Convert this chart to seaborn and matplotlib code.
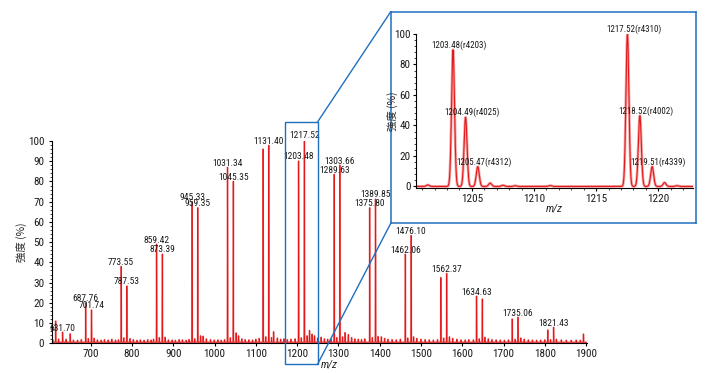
import numpy as np
import pandas as pd
import matplotlib
matplotlib.use("Agg")
import matplotlib.pyplot as plt
import seaborn as sns
from matplotlib.patches import Rectangle, ConnectionPatch
from matplotlib.ticker import MultipleLocator
from matplotlib import font_manager

# ---------------- data ----------------
peak_mz = [615.0, 631.70, 650.0, 687.76, 701.74, 773.55, 787.53, 859.42, 873.39,
           945.33, 959.35, 1031.34, 1045.35, 1117.37, 1131.40, 1203.48, 1217.52,
           1289.63, 1303.66, 1375.80, 1389.85, 1462.06, 1476.10, 1548.30, 1562.37,
           1634.63, 1648.65, 1721.00, 1735.06, 1807.40, 1821.43, 1893.70]
peak_int = [10.5, 5.0, 4.2, 19.5, 16.0, 37.5, 27.8, 48.5, 43.6,
            69.5, 66.5, 86.5, 79.5, 95.5, 97.3, 89.6, 100.0,
            83.0, 87.5, 66.5, 70.8, 43.5, 52.8, 32.0, 34.0,
            22.8, 21.4, 11.5, 12.4, 6.1, 7.4, 4.1]
peak_labels = ["", "631.70", "", "687.76", "701.74", "773.55", "787.53", "859.42", "873.39",
               "945.33", "959.35", "1031.34", "1045.35", "", "1131.40", "1203.48", "1217.52",
               "1289.63", "1303.66", "1375.80", "1389.85", "1462.06", "1476.10", "", "1562.37",
               "1634.63", "", "", "1735.06", "", "1821.43", ""]

noise_mz = [608, 622, 640, 658, 668, 677, 694, 708, 716, 725, 733, 742, 751, 760, 767,
            780, 795, 803, 812, 820, 829, 838, 846, 852, 866, 880, 888, 897, 905, 914,
            922, 931, 938, 952, 966, 972, 980, 990, 999, 1008, 1016, 1024, 1038, 1052,
            1058, 1066, 1074, 1083, 1092, 1100, 1108, 1124, 1138, 1143, 1152, 1160, 1168,
            1176, 1185, 1195, 1210, 1224, 1230, 1236, 1242, 1250, 1258, 1266, 1274, 1282,
            1296, 1310, 1316, 1324, 1332, 1340, 1348, 1356, 1364, 1382, 1396, 1404, 1412,
            1420, 1430, 1440, 1450, 1468, 1482, 1490, 1500, 1510, 1520, 1530, 1540, 1555,
            1569, 1577, 1587, 1597, 1607, 1616, 1627, 1641, 1655, 1663, 1672, 1682, 1692,
            1702, 1712, 1728, 1742, 1750, 1760, 1770, 1780, 1790, 1800, 1814, 1828, 1840,
            1852, 1864, 1876, 1886]
noise_int = [1.2, 1.6, 1.5, 1.1, 1.0, 1.3, 1.8, 2.0, 1.2, 1.0, 1.3, 1.1, 1.5, 1.1, 1.2,
             2.2, 1.8, 1.3, 1.0, 1.2, 1.0, 1.3, 1.1, 1.5, 2.3, 2.5, 1.2, 1.1, 1.0, 1.3,
             1.2, 1.0, 1.4, 1.7, 3.2, 3.0, 1.7, 1.3, 1.1, 1.2, 1.0, 1.3, 2.2, 4.6,
             3.2, 1.7, 1.3, 1.2, 1.1, 1.5, 1.9, 2.7, 2.3, 5.2, 2.1, 1.5, 1.7,
             1.3, 1.5, 1.7, 2.2, 3.2, 5.8, 4.0, 3.2, 2.1, 2.5, 1.7, 1.5, 1.7,
             2.3, 2.7, 4.8, 3.8, 2.3, 1.7, 1.5, 1.3, 1.7, 2.3, 2.9, 2.7, 1.9,
             1.5, 1.3, 1.2, 1.5, 2.1, 2.7, 1.9, 1.5, 1.3, 1.2, 1.1, 1.3, 2.1,
             2.7, 1.9, 1.5, 1.2, 1.1, 1.3, 1.2, 1.7, 2.5, 1.7, 1.3, 1.2, 1.1,
             1.0, 1.2, 1.5, 2.1, 1.5, 1.2, 1.1, 1.0, 1.1, 1.2, 1.3, 1.5, 1.2,
             1.0, 1.0, 1.1, 1.0]
baseline_level = 0.5

inset_mz = [1201.45, 1203.48, 1204.49, 1205.47, 1206.47, 1207.50, 1208.50, 1211.30,
            1217.52, 1218.52, 1219.51, 1220.51, 1221.50]
inset_int = [1.0, 89.6, 45.4, 13.0, 2.2, 0.8, 0.5, 0.6,
             100.0, 46.4, 13.0, 2.6, 0.5]
inset_labels = ["", "1203.48(r4203)", "1204.49(r4025)", "1205.47(r4312)", "", "", "", "",
                "1217.52(r4310)", "1218.52(r4002)", "1219.51(r4339)", "", ""]

main_xticks = [700, 800, 900, 1000, 1100, 1200, 1300, 1400, 1500, 1600, 1700, 1800, 1900]
main_yticks = [0, 10, 20, 30, 40, 50, 60, 70, 80, 90, 100]
inset_xticks = [1205, 1210, 1215, 1220]
inset_yticks = [0, 20, 40, 60, 80, 100]
zoom_window = (1170.7, 1249.8)
y_title = "強度 (%)"
x_title = "m/z"

# ---------------- style ----------------
sns.set_theme(style="ticks")
available = {f.name for f in font_manager.fontManager.ttflist}
narrow_choices = ["Liberation Sans Narrow", "Arial Narrow", "DejaVu Sans Condensed",
                  "Roboto Condensed", "Open Sans Condensed", "Noto Sans Condensed"]
narrow = [n for n in narrow_choices if n in available]
if narrow:
    FONT = narrow[0]
    SCALE = 1.0
else:
    FONT = "Liberation Sans" if "Liberation Sans" in available else "DejaVu Sans"
    SCALE = 0.86
plt.rcParams["font.family"] = [FONT, "DejaVu Sans"]
CJK = ["Noto Sans CJK JP", "DejaVu Sans"]
RED = "#e31a1c"
PINK = "#f5a5a5"
BLUE = "#1f6fc0"
TXT = "#1a1a1a"


def profile(grid, centers, heights, sigma):
    out = np.zeros_like(grid)
    for c, h in zip(centers, heights):
        out += h * np.exp(-0.5 * ((grid - c) / sigma) ** 2)
    return out


fig = plt.figure(figsize=(7.18, 3.73), dpi=100)
fig.patch.set_facecolor("white")

# ---------------- main spectrum ----------------
ax = fig.add_axes([0.0724, 0.0796, 0.745, 0.5424])
xmin, xmax = 606, 1902
grid = np.union1d(np.arange(xmin, xmax, 0.05), np.array(peak_mz))
y = (profile(grid, peak_mz, peak_int, 0.25)
     + profile(grid, noise_mz, noise_int, 0.25) + baseline_level)
df = pd.DataFrame({"mz": grid, "intensity": y})
sns.lineplot(data=df, x="mz", y="intensity", ax=ax, color=PINK, lw=1.3,
             estimator=None, sort=False, errorbar=None)
sns.lineplot(data=df, x="mz", y="intensity", ax=ax, color=RED, lw=0.6,
             estimator=None, sort=False, errorbar=None)
ax.set_xlim(xmin, xmax)
ax.set_ylim(0, 100)
ax.set_xticks(main_xticks)
ax.set_yticks(main_yticks)
ax.yaxis.set_minor_locator(MultipleLocator(2))
ax.tick_params(axis="both", which="major", length=2.5, width=0.8,
               labelsize=8 * SCALE, color="black", labelcolor=TXT)
ax.tick_params(axis="x", pad=1.5)
ax.tick_params(axis="y", pad=3)
ax.tick_params(axis="y", which="minor", length=1.3, width=0.6)
for s in ["top", "right"]:
    ax.spines[s].set_visible(False)
for s in ["left", "bottom"]:
    ax.spines[s].set_color("black")
    ax.spines[s].set_linewidth(0.8)
ax.set_ylabel(y_title, family=CJK, fontsize=7.5)
ax.yaxis.set_label_coords(-0.047, 0.5)
ax.set_xlabel(x_title, fontstyle="italic", fontsize=8 * SCALE)
ax.xaxis.set_label_coords(0.518, -0.08)

for mz, h, lab in zip(peak_mz, peak_int, peak_labels):
    if lab:
        ax.text(mz, h + 0.3, lab, ha="center", va="bottom", fontsize=6.8 * SCALE,
                color=TXT, clip_on=False)

# zoom rectangle
y0r, y1r = -10.2, 109.5
rect = Rectangle((zoom_window[0], y0r), zoom_window[1] - zoom_window[0], y1r - y0r,
                 transform=ax.transData, fill=False, ec=BLUE, lw=1.0, clip_on=False,
                 zorder=6)
ax.add_patch(rect)

# ---------------- inset box ----------------
box = fig.add_axes([0.5442, 0.4013, 0.4252, 0.5673], zorder=5)
box.set_facecolor("white")
box.set_xticks([])
box.set_yticks([])
for s in box.spines.values():
    s.set_color(BLUE)
    s.set_linewidth(1.1)

axi = fig.add_axes([0.5794, 0.496, 0.3858, 0.4129], zorder=6)
axi.patch.set_alpha(0)
gi = np.union1d(np.arange(1200.5, 1222.8, 0.01), np.array(inset_mz))
yi = profile(gi, inset_mz, inset_int, 0.12)
dfi = pd.DataFrame({"mz": gi, "intensity": yi})
sns.lineplot(data=dfi, x="mz", y="intensity", ax=axi, color=PINK, lw=2.0,
             estimator=None, sort=False, errorbar=None)
sns.lineplot(data=dfi, x="mz", y="intensity", ax=axi, color=RED, lw=0.8,
             estimator=None, sort=False, errorbar=None)
axi.set_xlim(1200.5, 1222.8)
axi.set_ylim(-1, 100)
axi.set_xticks(inset_xticks)
axi.set_yticks(inset_yticks)
axi.xaxis.set_minor_locator(MultipleLocator(1))
axi.yaxis.set_minor_locator(MultipleLocator(4))
axi.tick_params(axis="both", which="major", length=2.5, width=0.8,
                labelsize=8 * SCALE, color="black", labelcolor=TXT)
axi.tick_params(axis="x", pad=1.5)
axi.tick_params(axis="y", pad=1.5)
axi.tick_params(which="minor", length=1.3, width=0.6)
for s in ["top", "right"]:
    axi.spines[s].set_visible(False)
for s in ["left", "bottom"]:
    axi.spines[s].set_color("black")
    axi.spines[s].set_linewidth(0.8)
axi.set_ylabel(y_title, family=CJK, fontsize=7.5)
axi.yaxis.set_label_coords(-0.064, 0.5)
axi.set_xlabel(x_title, fontstyle="italic", fontsize=8 * SCALE, labelpad=0)
for mz, h, lab in zip(inset_mz, inset_int, inset_labels):
    if lab:
        axi.text(mz + 0.5, h, lab, ha="center", va="bottom", fontsize=6.5 * SCALE,
                 color=TXT, clip_on=False)

# connector lines
for ya, yb in [(y1r, 0.9686), (y0r, 0.4013)]:
    con = ConnectionPatch(xyA=(zoom_window[1], ya), coordsA=ax.transData,
                          xyB=(0.5442, yb), coordsB="figure fraction",
                          color=BLUE, lw=1.0, zorder=7)
    fig.add_artist(con)

fig.savefig("out.png", dpi=100, facecolor="white")
